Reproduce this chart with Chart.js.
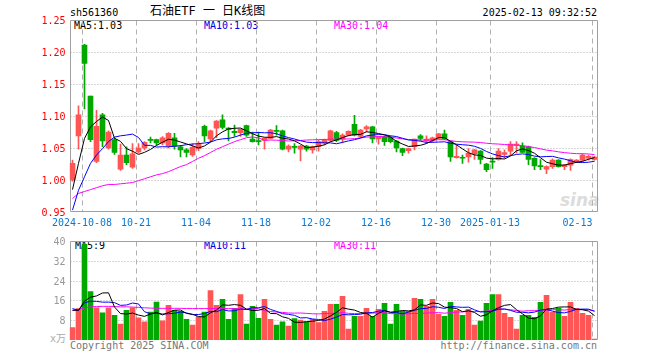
<!DOCTYPE html>
<html>
<head>
<meta charset="utf-8">
<script src="https://cdn.jsdelivr.net/npm/chart.js@4.4.1/dist/chart.umd.min.js"></script>
<style>
  body { margin: 0; background: #fff; }
  #wrap { position: relative; width: 660px; height: 360px; overflow: hidden;
          font: 10px "DejaVu Sans Mono", monospace; }
  .t { position: absolute; white-space: pre; line-height: 12px; }
  canvas { position: absolute; left: 0; }
</style>
</head>
<body>
<div id="wrap">
  <div class="t" style="left:70px;top:7px">sh561360</div>
  <div class="t" style="left:150px;top:4px;font-size:12px;line-height:14px;font-family:'DejaVu Sans Mono','Noto Sans CJK SC'">石油ETF 一 日K线图</div>
  <div class="t" style="right:63px;top:7px">2025-02-13 09:32:52</div>

  <div class="t" style="left:74px;top:20px;color:#000">MA5:1.03</div>
  <div class="t" style="left:204px;top:20px;color:#0000e0">MA10:1.03</div>
  <div class="t" style="left:334px;top:20px;color:#ff00ff">MA30:1.04</div>

  <div class="t" style="left:560px;top:190px;font:italic bold 17px 'DejaVu Sans';color:#dcdcdc">sina</div>

  <div class="t" style="left:75px;top:240px;color:#000">MA5:9</div>
  <div class="t" style="left:204px;top:240px;color:#0000e0">MA10:11</div>
  <div class="t" style="left:334px;top:240px;color:#ff00ff">MA30:11</div>

  <div class="t" style="left:50px;top:333px;color:#aaa;font-family:'DejaVu Sans Mono','Noto Sans CJK SC'">x万</div>
  <div class="t" style="left:70px;top:340px;color:#777">Copyright 2025 SINA.COM</div>
  <div class="t" style="right:63px;top:340px;color:#777">http://finance.sina.com.cn</div>

  <canvas id="k" width="660" height="235" style="top:0"></canvas>
  <canvas id="v" width="660" height="125" style="top:235px"></canvas>
</div>

<script>
const dates = [
  '2024-09-27','2024-09-30',
  '2024-10-08','2024-10-09','2024-10-10','2024-10-11','2024-10-14','2024-10-15','2024-10-16','2024-10-17','2024-10-18',
  '2024-10-21','2024-10-22','2024-10-23','2024-10-24','2024-10-25','2024-10-28','2024-10-29','2024-10-30','2024-10-31',
  '2024-11-01','2024-11-04','2024-11-05','2024-11-06','2024-11-07','2024-11-08','2024-11-11','2024-11-12','2024-11-13',
  '2024-11-14','2024-11-15','2024-11-18','2024-11-19','2024-11-20','2024-11-21','2024-11-22','2024-11-25','2024-11-26',
  '2024-11-27','2024-11-28','2024-11-29',
  '2024-12-02','2024-12-03','2024-12-04','2024-12-05','2024-12-06','2024-12-09','2024-12-10','2024-12-11','2024-12-12',
  '2024-12-13','2024-12-16','2024-12-17','2024-12-18','2024-12-19','2024-12-20','2024-12-23','2024-12-24','2024-12-25',
  '2024-12-26','2024-12-27','2024-12-30','2024-12-31',
  '2025-01-02','2025-01-03','2025-01-06','2025-01-07','2025-01-08','2025-01-09','2025-01-10','2025-01-13','2025-01-14',
  '2025-01-15','2025-01-16','2025-01-17','2025-01-20','2025-01-21','2025-01-22','2025-01-23','2025-01-24','2025-01-27',
  '2025-02-05','2025-02-06','2025-02-07','2025-02-10','2025-02-11','2025-02-12','2025-02-13'
];

const opens = [
  1.000,1.069,1.211,1.131,1.029,1.102,1.050,1.063,1.017,1.039,
  1.020,1.044,1.050,1.063,1.063,1.058,1.053,1.066,1.052,1.047,
  1.039,1.049,1.084,1.064,1.081,1.094,1.081,1.076,1.074,1.085,
  1.064,1.061,1.062,1.065,1.077,1.077,1.048,1.052,1.048,1.053,
  1.047,1.052,1.058,1.062,1.074,1.064,1.070,1.087,1.068,1.080,
  1.083,1.064,1.068,1.067,1.061,1.049,1.046,1.052,1.069,1.061,
  1.062,1.065,1.072,1.060,1.035,1.035,1.036,1.041,1.045,1.025,
  1.029,1.032,1.040,1.045,1.054,1.053,1.052,1.034,1.022,1.017,
  1.021,1.031,1.021,1.023,1.029,1.031,1.034,1.032
];
const highs = [
  1.031,1.116,1.212,1.131,1.109,1.104,1.077,1.065,1.056,1.052,
  1.057,1.057,1.060,1.067,1.064,1.068,1.074,1.073,1.054,1.049,
  1.057,1.060,1.086,1.078,1.093,1.102,1.082,1.086,1.080,1.086,
  1.075,1.075,1.066,1.079,1.085,1.078,1.055,1.057,1.054,1.054,
  1.053,1.062,1.064,1.078,1.076,1.072,1.077,1.101,1.079,1.085,
  1.084,1.068,1.069,1.068,1.062,1.050,1.050,1.064,1.071,1.069,
  1.067,1.073,1.078,1.061,1.055,1.039,1.049,1.048,1.046,1.026,
  1.035,1.049,1.047,1.060,1.060,1.058,1.053,1.035,1.032,1.022,
  1.033,1.032,1.024,1.033,1.032,1.041,1.039,1.037
];
const lows = [
  0.998,1.048,1.111,1.060,1.027,1.052,1.048,1.040,1.015,1.024,
  1.018,1.042,1.047,1.058,1.055,1.055,1.050,1.048,1.036,1.036,
  1.037,1.046,1.060,1.060,1.066,1.080,1.061,1.068,1.068,1.068,
  1.059,1.055,1.048,1.064,1.070,1.047,1.044,1.042,1.030,1.045,
  1.042,1.045,1.055,1.060,1.060,1.058,1.069,1.069,1.066,1.075,
  1.058,1.056,1.054,1.058,1.044,1.038,1.042,1.047,1.062,1.057,
  1.059,1.064,1.063,1.029,1.034,1.026,1.028,1.032,1.025,1.013,
  1.018,1.031,1.034,1.039,1.042,1.043,1.024,1.016,1.016,1.010,
  1.018,1.020,1.016,1.015,1.027,1.029,1.031,1.031
];
const closes = [
  1.026,1.102,1.182,1.063,1.084,1.061,1.075,1.043,1.039,1.027,
  1.041,1.050,1.059,1.062,1.058,1.066,1.073,1.053,1.047,1.043,
  1.051,1.056,1.069,1.077,1.092,1.082,1.079,1.074,1.079,1.070,
  1.060,1.060,1.065,1.078,1.076,1.048,1.053,1.051,1.053,1.048,
  1.052,1.060,1.062,1.077,1.062,1.070,1.076,1.070,1.078,1.083,
  1.064,1.068,1.060,1.060,1.050,1.043,1.049,1.064,1.065,1.064,
  1.066,1.072,1.064,1.036,1.037,1.034,1.042,1.047,1.032,1.016,
  1.028,1.045,1.043,1.056,1.056,1.043,1.032,1.022,1.021,1.021,
  1.031,1.021,1.023,1.032,1.031,1.039,1.037,1.036
];
// volume in 万手
const volumes = [
  5,12.7,38.7,19.6,13,11,13,10,6.4,12,
  13,9,7.3,11.3,15.3,7.7,14,12,11.6,8.4,
  6,9.3,11.3,20,14,16.4,8.4,12.8,18.4,6.4,
  13.6,8.8,16.4,8.4,6,7.3,5.6,8.7,8,7.3,
  8.4,7,11.6,14.4,14.4,17.6,4.4,9.6,9.6,12.8,
  9.6,12.4,14.8,6.4,14.4,11.6,11.6,16.8,16.4,13.6,
  16.4,10.4,9.6,15.2,12,10,12.4,6,7.6,14.8,
  18.4,18.4,10.8,9.2,4.4,10,10,9.2,15.2,18,
  11.2,12.8,9.6,15.2,12.8,10.8,10,0.4
];

// moving-average values at the left edge (window reaches before the first candle)
const ma5Head  = [0.985,1.026,1.065,1.083];
const ma10Head = [0.953,0.984,1.005,1.026,1.039,1.049,1.060,1.067,1.069];
const ma30Head = [0.971,0.979,0.982,0.985,0.988,0.991,0.993,0.993,0.994,0.995,
                  0.996,0.999,1.002,1.005,1.008,1.010,1.013,1.017,1.021,1.024,
                  1.029,1.034,1.038,1.043,1.048,1.052,1.056,1.060,1.063];
const vma5Head  = [12.0,12.0,15.7,17.3];
const vma10Head = [12.7,12.0,15.0,15.7,15.6,15.3,15.3,15.1,14.0];
const vma30Head = [12.0,12.3,13.0,13.4,13.5,13.6,13.6,13.5,13.4,13.4,
                   13.3,13.2,13.0,12.9,12.8,12.8,12.8,12.8,12.8,12.7,
                   12.7,12.7,12.7,12.7,12.7,12.7,12.7,12.7,12.6];

const tickDates  = ['2024-10-08','2024-10-21','2024-11-04','2024-11-18','2024-12-02','2024-12-16','2024-12-30','2025-01-13','2025-02-13'];
const tickLabels = ['2024-10-08','10-21','11-04','11-18','12-02','12-16','12-30','2025-01-13','02-13'];
const priceTicks = [0.95,1.00,1.05,1.10,1.15,1.20,1.25];
const volTicks   = [8,16,24,32,40];

const UP = '#ff5555', DOWN = '#00a800';
const FONT = '10px "DejaVu Sans Mono", monospace';

function movingAvg(values, n, head) {
  return values.map((v, i) => {
    if (i < n - 1) return head[i];
    let s = 0;
    for (let k = i - n + 1; k <= i; k++) s += values[k];
    return s / n;
  });
}

const colors = closes.map((c, i) => c >= opens[i] ? UP : DOWN);
const tickIdx = tickDates.map(d => dates.indexOf(d));

// grid, frame and axis labels, positioned through the chart scales
const framePlugin = {
  id: 'frame',
  beforeDatasetsDraw(chart, args, o) {
    const { ctx, chartArea: a, scales: { x, y } } = chart;
    const L = Math.round(a.left) + 0.5, R = Math.round(a.right) - 0.5;
    const T = Math.round(a.top) + 0.5, B = Math.round(a.bottom) - 0.5;
    const half = (x.getPixelForValue(1) - x.getPixelForValue(0)) / 2;
    const line = (x1, y1, x2, y2) => { ctx.beginPath(); ctx.moveTo(x1, y1); ctx.lineTo(x2, y2); ctx.stroke(); };
    ctx.save();
    ctx.lineWidth = 1;
    ctx.strokeStyle = '#b0b0b0';
    ctx.setLineDash([1, 2]);
    o.grid.forEach(v => { const py = Math.round(y.getPixelForValue(v)) + 0.5; line(L, py, R, py); });
    ctx.setLineDash([5, 4]);
    tickIdx.forEach(i => { const px = Math.round(x.getPixelForValue(i) - half) + 0.5; line(px, T, px, B); });
    ctx.setLineDash([]);
    ctx.strokeStyle = '#a0a0a0';
    line(L, T, R, T); line(L, T, L, B); line(R, T, R, B);
    if (o.bottom) line(L, B, R, B);
    ctx.restore();
  },
  afterDraw(chart, args, o) {
    const { ctx, chartArea: a, scales: { x, y } } = chart;
    ctx.save();
    ctx.font = FONT;
    ctx.textBaseline = 'middle';
    ctx.textAlign = 'right';
    ctx.fillStyle = o.yColor;
    o.yTicks.forEach(v => ctx.fillText(o.fmt(v), a.left - 4, Math.round(y.getPixelForValue(v)) + 1));
    if (o.xLabels) {
      const half = (x.getPixelForValue(1) - x.getPixelForValue(0)) / 2;
      ctx.fillStyle = '#0a78d2';
      ctx.textAlign = 'left';
      tickIdx.forEach((i, k) => {
        const w = ctx.measureText(tickLabels[k]).width;
        let px = Math.round(x.getPixelForValue(i) - half) - w / 2;
        px = Math.min(px, a.right - 5 - w);
        ctx.fillText(tickLabels[k], px, a.bottom + 11);
      });
    }
    ctx.restore();
  }
};

function lineSet(data, color) {
  return { type: 'line', data, borderColor: color, borderWidth: 1, pointRadius: 0,
           tension: 0, order: 0 };
}

const baseOptions = (pad, ymin, ymax, frame) => ({
  responsive: false,
  animation: false,
  events: [],
  layout: { padding: pad },
  plugins: { legend: { display: false }, tooltip: { enabled: false }, frame },
  scales: {
    x: { display: false, offset: true },
    y: { display: false, min: ymin, max: ymax }
  }
});

new Chart(document.getElementById('k'), {
  type: 'bar',
  data: {
    labels: dates,
    datasets: [
      lineSet(movingAvg(closes, 5, ma5Head), '#000000'),
      lineSet(movingAvg(closes, 10, ma10Head), '#0000ff'),
      lineSet(movingAvg(closes, 30, ma30Head), '#ff00ff'),
      { data: opens.map((o, i) => [o, closes[i]]), backgroundColor: colors,
        barThickness: 5, minBarLength: 1, grouped: false, order: 1 },
      { data: lows.map((l, i) => [l, highs[i]]), backgroundColor: colors,
        barThickness: 1, grouped: false, order: 2 }
    ]
  },
  options: baseOptions({ left: 69.5, right: 62.5, top: 20, bottom: 23 }, 0.95, 1.25,
    { grid: [1.00, 1.05, 1.10, 1.15, 1.20], yTicks: priceTicks, yColor: '#ff0000',
      fmt: v => v.toFixed(2), xLabels: true, bottom: true }),
  plugins: [framePlugin]
});

new Chart(document.getElementById('v'), {
  type: 'bar',
  data: {
    labels: dates,
    datasets: [
      lineSet(movingAvg(volumes, 5, vma5Head), '#000000'),
      lineSet(movingAvg(volumes, 10, vma10Head), '#0000ff'),
      lineSet(movingAvg(volumes, 30, vma30Head), '#ff00ff'),
      { data: volumes, backgroundColor: colors, barThickness: 5, grouped: false, order: 1 }
    ]
  },
  options: baseOptions({ left: 69.5, right: 62.5, top: 6, bottom: 20 }, 0, 40,
    { grid: [8, 16, 24, 32], yTicks: volTicks, yColor: '#999999',
      fmt: v => String(v), xLabels: false, bottom: false }),
  plugins: [framePlugin]
});
</script>
</body>
</html>
